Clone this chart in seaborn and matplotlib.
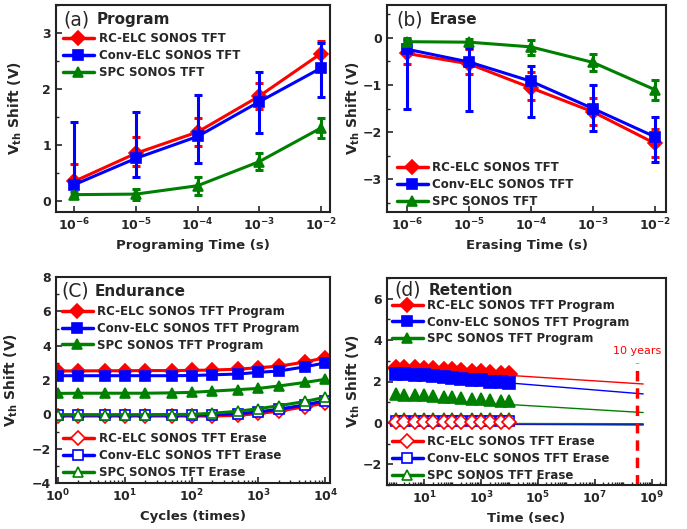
import matplotlib
matplotlib.use("Agg")
import numpy as np
import matplotlib.pyplot as plt
import seaborn as sns
from matplotlib.ticker import (FixedLocator, FuncFormatter, MultipleLocator, LogLocator,
                               NullLocator, NullFormatter)
from matplotlib.lines import Line2D

# ---------------- data ----------------
# (a) program
prog_t = [1e-6, 1e-5, 1e-4, 1e-3, 1e-2]
prog_rc = [0.35, 0.85, 1.23, 1.87, 2.63]
prog_rc_lo = [0.05, 0.62, 0.98, 1.65, 2.40]
prog_rc_hi = [0.66, 1.14, 1.48, 2.10, 2.86]
prog_conv = [0.29, 0.76, 1.15, 1.77, 2.37]
prog_conv_lo = [0.07, 0.43, 0.68, 1.21, 1.86]
prog_conv_hi = [1.41, 1.58, 1.89, 2.31, 2.82]
prog_spc = [0.11, 0.12, 0.27, 0.70, 1.30]
prog_spc_lo = [0.06, 0.02, 0.10, 0.55, 1.13]
prog_spc_hi = [0.16, 0.22, 0.42, 0.86, 1.48]

# (b) erase
ers_t = [1e-6, 1e-5, 1e-4, 1e-3, 1e-2]
ers_rc = [-0.33, -0.55, -1.06, -1.57, -2.24]
ers_rc_lo = [-0.55, -0.77, -1.31, -1.86, -2.53]
ers_rc_hi = [-0.02, -0.24, -0.72, -1.28, -1.93]
ers_conv = [-0.24, -0.51, -0.92, -1.50, -2.10]
ers_conv_lo = [-1.52, -1.56, -1.68, -1.98, -2.63]
ers_conv_hi = [-0.05, -0.22, -0.60, -0.99, -1.68]
ers_spc = [-0.08, -0.09, -0.19, -0.52, -1.10]
ers_spc_lo = [-0.15, -0.16, -0.36, -0.70, -1.31]
ers_spc_hi = [-0.01, -0.02, -0.05, -0.34, -0.90]

# (c) endurance
cyc = [1, 2, 5, 10, 20, 50, 100, 200, 500, 1000, 2000, 5000, 10000]
end_rc_p = [2.53, 2.53, 2.54, 2.54, 2.55, 2.55, 2.56, 2.58, 2.63, 2.72, 2.80, 3.05, 3.30]
end_conv_p = [2.25, 2.25, 2.25, 2.25, 2.25, 2.25, 2.26, 2.30, 2.35, 2.45, 2.52, 2.77, 3.00]
end_spc_p = [1.22, 1.23, 1.23, 1.23, 1.23, 1.25, 1.28, 1.35, 1.44, 1.51, 1.65, 1.86, 2.04]
end_rc_e = [-0.10, -0.10, -0.10, -0.10, -0.10, -0.10, -0.10, -0.10, -0.06, 0.05, 0.18, 0.45, 0.65]
end_conv_e = [-0.05, -0.05, -0.05, -0.05, -0.05, -0.05, -0.05, -0.03, 0.04, 0.14, 0.30, 0.55, 0.80]
end_spc_e = [-0.02, -0.02, -0.02, -0.02, -0.02, -0.01, 0.00, 0.06, 0.18, 0.33, 0.50, 0.75, 1.00]

# (d) retention
ret_t = [1, 2, 5, 10, 20, 50, 100, 200, 500, 1000, 2000, 5000, 10000]
ret_rc_p = [2.67, 2.66, 2.63, 2.62, 2.60, 2.57, 2.55, 2.52, 2.48, 2.45, 2.42, 2.38, 2.35]
ret_conv_p = [2.38, 2.36, 2.33, 2.30, 2.27, 2.22, 2.18, 2.13, 2.08, 2.05, 2.00, 1.97, 1.94]
ret_spc_p = [1.38, 1.37, 1.35, 1.33, 1.30, 1.27, 1.24, 1.20, 1.17, 1.14, 1.11, 1.08, 1.05]
ret_rc_e = [0.02] * 13
ret_conv_e = [0.10] * 13
ret_spc_e = [0.18] * 13
fit_t = [1, 5e8]
fit_rc_p = [2.65, 1.88]
fit_conv_p = [2.38, 1.40]
fit_spc_p = [1.22, 0.50]
fit_rc_e = [-0.05, -0.10]
fit_conv_e = [-0.04, -0.08]
fit_spc_e = [-0.02, -0.04]
ten_years = 3.15e8

RED, BLUE, GREEN = "#ff0000", "#0000ff", "#008000"

# ---------------- style ----------------
sns.set_style("ticks")
plt.rcParams["font.family"] = ["DejaVu Sans"]
plt.rcParams["mathtext.fontset"] = "dejavusans"
plt.rcParams["xtick.direction"] = "in"
plt.rcParams["ytick.direction"] = "in"

TICK_FS = 9
LAB_FS = 9.5
LEG_FS = 8.5


def pow_fmt(v, pos):
    e = int(round(np.log10(v)))
    return r"$\mathbf{10^{%d}}$" % e


def settings_plot(ax, ylab_x):
    for s in ax.spines.values():
        s.set_linewidth(1.5)
        s.set_color("#222222")
    ax.tick_params(axis="both", which="major", length=4, width=1.2, labelsize=TICK_FS)
    ax.tick_params(axis="both", which="minor", length=2.5, width=1.0)
    ax.xaxis.set_minor_formatter(NullFormatter())
    for label in ax.get_xticklabels() + ax.get_yticklabels():
        label.set_fontweight("bold")
    ax.set_ylabel(r"$\mathbf{V_{th}}$ Shift (V)", fontsize=LAB_FS + 0.5, fontweight="bold")
    ax.yaxis.set_label_coords(ylab_x, 0.5)
    return ax


def panel_title(ax, tag, name, x1, x2, y):
    ax.text(x1, y, tag, transform=ax.transAxes, fontsize=13.5, va="center", ha="left")
    ax.text(x2, y, name, transform=ax.transAxes, fontsize=11, fontweight="bold", va="center", ha="left")


def series(ax, x, y, color, marker, ms=7, lw=2.2, open_marker=False):
    sns.lineplot(
        x=x, y=y, ax=ax, color=color, lw=lw, marker=marker, markersize=ms,
        markeredgecolor=color, markerfacecolor="white" if open_marker else color,
        markeredgewidth=1.2, legend=False,
    )


def err(ax, x, y, lo, hi, color):
    y = np.array(y)
    ax.errorbar(x, y, yerr=[y - np.array(lo), np.array(hi) - y], fmt="none",
                ecolor=color, elinewidth=2.2, capsize=3, capthick=2.2)


def handles(labels, colors, markers, open_marker=False, ms=7):
    return [
        Line2D([0], [0], color=c, lw=2.5, marker=m, markersize=ms, markeredgecolor=c,
               markerfacecolor="white" if open_marker else c, markeredgewidth=1.2, label=l)
        for l, c, m in zip(labels, colors, markers)
    ]


leg_kw = dict(frameon=False, handlelength=2.6, handletextpad=0.4, labelspacing=0.33,
              borderpad=0, borderaxespad=0, prop={"weight": "bold", "size": LEG_FS})

fig = plt.figure(figsize=(6.87, 5.29), dpi=100, facecolor="white")
W, H = 687, 529


def pos(l, r, t, b):
    return [l / W, 1 - b / H, (r - l) / W, (b - t) / H]


# ---------- (a) ----------
ax = fig.add_axes(pos(56, 330, 5, 212))
ax.set_xscale("log")
err(ax, prog_t, prog_rc, prog_rc_lo, prog_rc_hi, RED)
series(ax, prog_t, prog_rc, RED, "D")
err(ax, prog_t, prog_conv, prog_conv_lo, prog_conv_hi, BLUE)
series(ax, prog_t, prog_conv, BLUE, "s")
err(ax, prog_t, prog_spc, prog_spc_lo, prog_spc_hi, GREEN)
series(ax, prog_t, prog_spc, GREEN, "^")
ax.set_xlim(10 ** -6.3, 10 ** -1.85)
ax.set_ylim(-0.2, 3.5)
ax.xaxis.set_major_locator(FixedLocator(prog_t))
ax.xaxis.set_major_formatter(FuncFormatter(pow_fmt))
ax.xaxis.set_minor_locator(NullLocator())
ax.yaxis.set_major_locator(MultipleLocator(1))
ax.yaxis.set_minor_locator(MultipleLocator(0.5))
ax.set_xlabel("Programing Time (s)", fontsize=LAB_FS, fontweight="bold")
settings_plot(ax, -0.115)
panel_title(ax, "(a)", "Program", 0.026, 0.15, 0.928)
ax.legend(handles=handles(["RC-ELC SONOS TFT", "Conv-ELC SONOS TFT", "SPC SONOS TFT"],
                          [RED, BLUE, GREEN], ["D", "s", "^"]),
          loc="upper left", bbox_to_anchor=(0.026, 0.87), **leg_kw)

# ---------- (b) ----------
ax = fig.add_axes(pos(387, 666, 5, 212))
ax.set_xscale("log")
err(ax, ers_t, ers_rc, ers_rc_lo, ers_rc_hi, RED)
series(ax, ers_t, ers_rc, RED, "D")
err(ax, ers_t, ers_conv, ers_conv_lo, ers_conv_hi, BLUE)
series(ax, ers_t, ers_conv, BLUE, "s")
err(ax, ers_t, ers_spc, ers_spc_lo, ers_spc_hi, GREEN)
series(ax, ers_t, ers_spc, GREEN, "^")
ax.set_xlim(10 ** -6.32, 10 ** -1.82)
ax.set_ylim(-3.7, 0.7)
ax.xaxis.set_major_locator(FixedLocator(ers_t))
ax.xaxis.set_major_formatter(FuncFormatter(pow_fmt))
ax.xaxis.set_minor_locator(NullLocator())
ax.yaxis.set_major_locator(MultipleLocator(1))
ax.yaxis.set_minor_locator(MultipleLocator(0.5))
ax.set_xlabel("Erasing Time (s)", fontsize=LAB_FS, fontweight="bold")
settings_plot(ax, -0.09)
panel_title(ax, "(b)", "Erase", 0.032, 0.154, 0.928)
ax.legend(handles=handles(["RC-ELC SONOS TFT", "Conv-ELC SONOS TFT", "SPC SONOS TFT"],
                          [RED, BLUE, GREEN], ["D", "s", "^"]),
          loc="lower left", bbox_to_anchor=(0.036, 0.02), **leg_kw)

# ---------- (c) ----------
ax = fig.add_axes(pos(56, 330, 277, 483))
ax.set_xscale("log")
series(ax, cyc, end_rc_p, RED, "D")
series(ax, cyc, end_conv_p, BLUE, "s")
series(ax, cyc, end_spc_p, GREEN, "^")
series(ax, cyc, end_rc_e, RED, "D", open_marker=True)
series(ax, cyc, end_conv_e, BLUE, "s", open_marker=True)
series(ax, cyc, end_spc_e, GREEN, "^", open_marker=True)
ax.set_xlim(10 ** -0.03, 10 ** 4.07)
ax.set_ylim(-4, 8)
ax.xaxis.set_major_locator(FixedLocator([1, 10, 100, 1000, 10000]))
ax.xaxis.set_major_formatter(FuncFormatter(pow_fmt))
ax.xaxis.set_minor_locator(LogLocator(base=10, subs=np.arange(2, 10), numticks=20))
ax.yaxis.set_major_locator(MultipleLocator(2))
ax.yaxis.set_minor_locator(MultipleLocator(1))
ax.set_xlabel("Cycles (times)", fontsize=LAB_FS, fontweight="bold")
settings_plot(ax, -0.13)
panel_title(ax, "(C)", "Endurance", 0.02, 0.142, 0.93)
leg1 = ax.legend(handles=handles(["RC-ELC SONOS TFT Program", "Conv-ELC SONOS TFT Program",
                                  "SPC SONOS TFT Program"], [RED, BLUE, GREEN], ["D", "s", "^"]),
                 loc="upper left", bbox_to_anchor=(0.022, 0.865), **leg_kw)
ax.add_artist(leg1)
ax.legend(handles=handles(["RC-ELC SONOS TFT Erase", "Conv-ELC SONOS TFT Erase",
                           "SPC SONOS TFT Erase"], [RED, BLUE, GREEN], ["D", "s", "^"], open_marker=True),
          loc="lower left", bbox_to_anchor=(0.026, 0.02), **leg_kw)

# ---------- (d) ----------
ax = fig.add_axes(pos(387, 666, 278, 485))
ax.set_xscale("log")
for y, c in [(fit_rc_e, RED), (fit_conv_e, BLUE), (fit_spc_e, GREEN),
             (fit_rc_p, RED), (fit_conv_p, BLUE), (fit_spc_p, GREEN)]:
    sns.lineplot(x=fit_t, y=y, ax=ax, color=c, lw=1.0, legend=False)
series(ax, ret_t, ret_spc_e, GREEN, "^", ms=8.5, lw=0, open_marker=True)
series(ax, ret_t, ret_conv_e, BLUE, "s", ms=7, lw=0, open_marker=True)
series(ax, ret_t, ret_rc_e, RED, "D", ms=7, lw=0, open_marker=True)
series(ax, ret_t, ret_rc_p, RED, "D", ms=8, lw=0)
series(ax, ret_t, ret_conv_p, BLUE, "s", ms=8, lw=0)
series(ax, ret_t, ret_spc_p, GREEN, "^", ms=8.5, lw=0)
ax.plot([ten_years, ten_years], [-3, 2.9], color=RED, lw=2.5, ls=(0, (3, 2)))
ax.text(ten_years, 3.25, "10 years", color=RED, fontsize=8, ha="center", va="bottom")
ax.set_xlim(10 ** -0.3, 10 ** 9.5)
ax.set_ylim(-3, 7)
ax.xaxis.set_major_locator(FixedLocator([10, 1e3, 1e5, 1e7, 1e9]))
ax.xaxis.set_major_formatter(FuncFormatter(pow_fmt))
ax.xaxis.set_minor_locator(LogLocator(base=10, subs=np.arange(1, 10), numticks=30))
ax.yaxis.set_major_locator(MultipleLocator(2))
ax.yaxis.set_minor_locator(MultipleLocator(1))
ax.set_xlabel("Time (sec)", fontsize=LAB_FS, fontweight="bold")
settings_plot(ax, -0.09)
panel_title(ax, "(d)", "Retention", 0.025, 0.15, 0.94)
leg1 = ax.legend(handles=handles(["RC-ELC SONOS TFT Program", "Conv-ELC SONOS TFT Program",
                                  "SPC SONOS TFT Program"], [RED, BLUE, GREEN], ["D", "s", "^"]),
                 loc="upper left", bbox_to_anchor=(0.018, 0.9), **leg_kw)
ax.add_artist(leg1)
ax.legend(handles=handles(["RC-ELC SONOS TFT Erase", "Conv-ELC SONOS TFT Erase",
                           "SPC SONOS TFT Erase"], [RED, BLUE, GREEN], ["D", "s", "^"], open_marker=True),
          loc="lower left", bbox_to_anchor=(0.018, 0.015), **leg_kw)

fig.savefig("out.png", dpi=100, facecolor="white")
